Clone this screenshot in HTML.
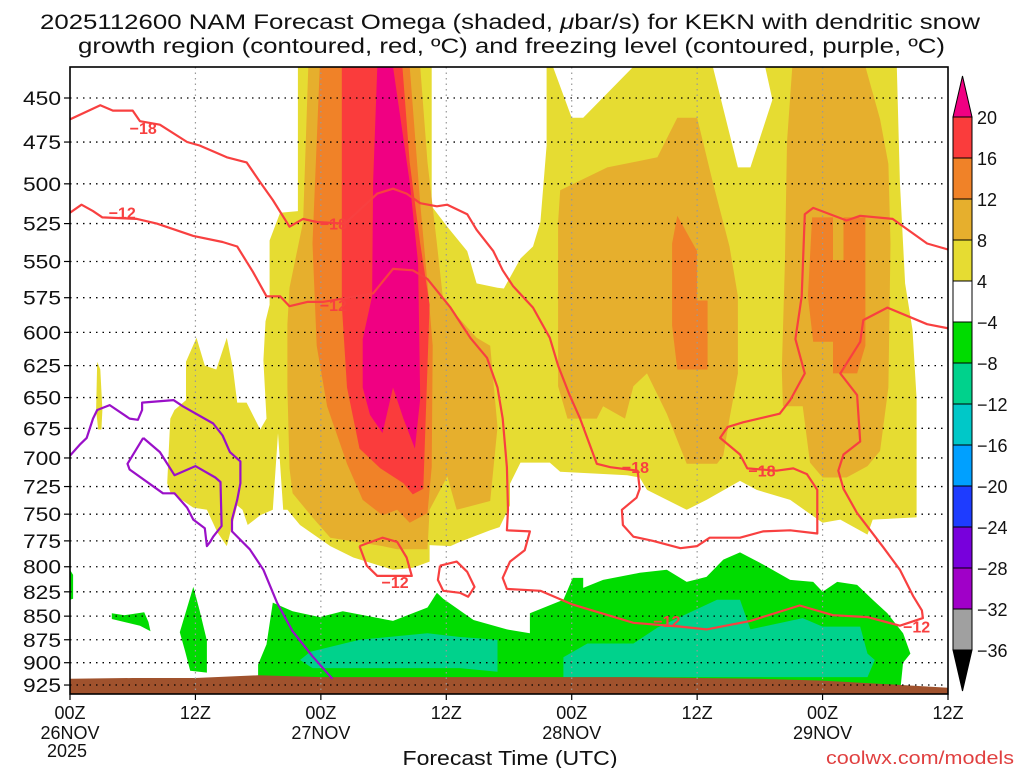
<!DOCTYPE html>
<html><head><meta charset="utf-8"><title>NAM Forecast Omega KEKN</title>
<style>
html,body{margin:0;padding:0;background:#fff;}
svg{display:block;font-family:"Liberation Sans",sans-serif;}
</style></head>
<body>
<svg id="chart" width="1024" height="768" viewBox="0 0 1024 768" xmlns="http://www.w3.org/2000/svg">
  <rect x="0" y="0" width="1024" height="768" fill="#fff"/>
  <text x="40" y="29" font-size="21" fill="#111" textLength="940" lengthAdjust="spacingAndGlyphs">2025112600 NAM Forecast Omega (shaded, <tspan font-style="italic">μ</tspan>bar/s) for KEKN with dendritic snow</text>
  <text x="78" y="53" font-size="21" fill="#111" textLength="867" lengthAdjust="spacingAndGlyphs">growth region (contoured, red, ºC) and freezing level (contoured, purple, ºC)</text>
  <defs><clipPath id="plotclip"><rect x="70" y="67" width="878" height="627"/></clipPath></defs>
  <g id="plot" clip-path="url(#plotclip)"></g>
  <g id="axes"></g>
  <g id="cbar"></g>
  <text x="510" y="765" font-size="20" fill="#111" text-anchor="middle" textLength="215" lengthAdjust="spacingAndGlyphs">Forecast Time (UTC)</text>
  <text x="826" y="764" font-size="18" fill="#e04040" textLength="188" lengthAdjust="spacingAndGlyphs">coolwx.com/models</text>
</svg>
<script>
const NS = "http://www.w3.org/2000/svg";
// ---- data (hours since 00Z 26NOV, pressure hPa) ----
const yLevels = [450,475,500,525,550,575,600,625,650,675,700,725,750,775,800,825,850,875,900,925];
const xTickHours = [0,12,24,36,48,60,72,84];
const xTickLabels = ["00Z","12Z","00Z","12Z","00Z","12Z","00Z","12Z"];
const xDateLabels = ["26NOV","","27NOV","","28NOV","","29NOV",""];
const cbarLevels = [20,16,12,8,4,-4,-8,-12,-16,-20,-24,-28,-32,-36];
const cbarColors = ["#fa3c3c","#f08228","#e6af2d","#e6dc32","#ffffff","#00dc00","#00d28c","#00c8c8","#00a0ff","#1e3cff","#7800dc","#a000c8","#a0a0a0"];

const yellowPlume = [[21.8,433],[34.6,433],[34.6,514],[36.1,527],[38.0,543],[38.9,565],[40.9,568],[42.1,569],[42.1,742],[41.1,762],[40.2,765],[37.3,776],[36.4,780],[34.4,779],[34.4,795],[32.8,801],[30.9,803],[27.1,791],[24.9,780],[22.0,760],[20.8,746],[20.4,746],[19.9,679],[19.4,746],[18.2,751],[17.0,760],[16.5,746],[16.0,742],[15.0,780],[14.1,767],[13.1,746],[11.8,744],[9.6,730],[9.3,722],[9.6,667],[10.0,660],[11.1,652],[11.1,622],[12.1,604],[12.9,625],[14.0,628],[15.0,604],[15.6,628],[16.0,654],[16.9,654],[18.2,676],[18.8,667],[18.5,621],[18.7,592],[19.1,580],[19.1,536],[20.1,518],[21.8,517]];
const yellowSliver = [[2.6,622],[2.9,628],[3.1,660],[3.0,676],[2.7,676],[2.5,660]];
const yellowRight = [[45.6,433],[46.2,433],[48.0,461],[49.1,461],[53.9,433],[61.5,433],[63.9,490],[65.1,490],[67.2,451],[66.5,433],[79.1,433],[79.4,499],[79.9,565],[80.6,598],[81.0,651],[81.0,753],[76.8,755],[76.3,769],[73.7,755],[72.0,758],[68.9,737],[65.7,728],[64.1,720],[60.9,737],[59.0,746],[55.2,728],[54.5,717],[53.3,715],[46.9,712],[45.9,704],[43.1,704],[41.8,728],[40.2,762],[38.3,764],[38.3,580],[41.1,574],[43.1,548],[44.3,540],[45.0,524],[45.6,477]];
const goldPlume = [[22.8,433],[33.5,433],[34.2,487],[35.1,538],[35.7,577],[38.9,604],[40.2,610],[40.9,674],[40.2,738],[37.0,746],[36.1,716],[34.4,746],[34.2,783],[31.3,783],[29.9,780],[24.9,772],[23.2,753],[21.3,731],[21.0,709],[20.8,642],[20.8,594],[21.0,568],[22.3,524]];
const goldRightA = [[46.9,504],[51.4,490],[56.2,484],[58.1,461],[60.0,461],[61.5,499],[63.1,540],[63.9,574],[63.9,631],[63.1,667],[62.5,698],[61.9,705],[59.0,705],[57.1,663],[55.2,631],[53.9,641],[53.1,667],[51.0,657],[50.4,667],[47.6,667],[46.7,641],[46.7,524]];
const goldRightB = [[69.1,433],[76.1,433],[77.5,462],[78.3,488],[78.5,538],[78.3,642],[77.5,694],[76.3,707],[74.3,717],[72.0,717],[70.8,704],[70.1,657],[68.2,657],[68.1,628],[68.4,551],[68.6,475]];
const orangePlume = [[23.9,433],[32.5,433],[33.5,512],[34.2,565],[34.7,610],[34.6,708],[34.2,749],[32.5,758],[31.3,746],[29.9,751],[28.0,737],[26.5,705],[24.6,657],[23.6,610],[23.2,538]];
const orangeRightA = [[58.1,520],[60.0,543],[60.0,577],[61.0,577],[61.0,628],[58.1,628],[57.6,595],[57.6,538]];
const orangeRightB = [[71.0,521],[73.0,521],[73.0,549],[74.0,549],[74.0,521],[76.1,521],[76.1,610],[75.3,631],[73.0,631],[73.0,607],[71.1,607],[70.6,574]];
const redPlume = [[26.0,433],[31.8,433],[32.5,487],[33.5,538],[34.4,580],[34.0,674],[33.8,727],[32.8,732],[31.9,722],[29.7,709],[27.7,692],[26.5,642],[26.0,580]];
const magentaPlume = [[29.4,433],[30.9,433],[32.5,499],[33.3,551],[33.5,651],[33.0,692],[31.9,667],[30.9,642],[29.9,679],[28.7,664],[28.0,642],[28.0,605],[28.9,574],[29.0,499]];
const greenMain = [[18.0,935],[18.0,902],[18.8,880],[19.4,836],[21.3,845],[23.9,851],[26.1,845],[30.9,855],[34.2,841],[35.1,826],[35.7,832],[38.6,854],[41.8,864],[44.0,868],[44.0,847],[47.2,833],[48.1,811],[49.1,811],[49.1,821],[51.0,813],[54.5,806],[57.1,803],[59.0,815],[60.9,810],[62.5,793],[64.1,786],[66.0,796],[68.9,813],[71.1,815],[72.0,825],[73.4,815],[75.3,818],[76.8,833],[78.2,847],[79.7,868],[80.4,890],[79.7,900],[79.4,935]];
const greenBlob1 = [[11.8,820],[12.4,844],[13.1,876],[13.1,911],[11.5,909],[11.0,887],[10.5,867]];
const greenBlob2 = [[4.0,847],[5.2,849],[7.1,846],[7.5,856],[7.7,866],[6.7,860],[4.0,853]];
const greenBlob3 = [[0,803],[0.3,808],[0.3,832],[0,833]];
const tealLeft = [[23.0,888],[27.7,875],[34.2,868],[37.3,872],[40.9,875],[40.9,910],[37.3,906],[23.2,906],[22.0,897]];
const tealRight = [[47.2,894],[49.5,879],[53.9,879],[56.2,862],[61.9,833],[64.1,833],[65.1,864],[70.1,852],[72.0,861],[75.6,861],[76.3,890],[77.0,897],[76.3,916],[47.2,916]];
const groundHours = [0,6,12,18,24,30,36,42,48,54,60,66,72,78,84];
const groundPressure = [918,917,917,914,916,916,916,916,916,916,917,918,920,924,928];

const isoMinus18 = [[0,462],[2.9,454],[4.1,457],[6.0,457],[6.7,463],[8.6,465],[11.2,475],[12.4,477],[15.0,484],[16.9,487],[18.2,499],[19.4,510],[21.0,527],[22.3,522],[23.6,524],[26.3,525],[29.4,506],[30.9,503],[32.2,506],[33.5,512],[35.1,514],[36.1,513],[38.0,519],[38.9,529],[40.5,543],[41.4,556],[42.4,567],[44.3,582],[45.9,604],[46.7,625],[47.8,648],[48.8,667],[50.4,705],[51.7,708],[54.3,711],[54.5,727],[54.2,735],[52.8,746],[52.9,760],[53.9,771],[55.8,775],[58.4,782],[60.0,780],[61.2,772],[64.1,772],[66.3,766],[68.9,765],[71.5,768],[71.5,728],[70.5,714],[69.2,709],[67.6,711],[64.8,709],[64.1,697],[62.2,683],[62.9,674],[64.4,670],[67.9,663],[68.9,652],[70.3,631],[69.4,605],[70.0,574],[70.3,519],[71.1,515],[74.3,523],[75.6,520],[78.7,522],[82.0,538],[84,542]];
const isoMinus12 = [[0,518],[1.1,513],[2.2,517],[3.1,521],[6.4,522],[8.3,525],[11.8,533],[14.6,537],[16.0,540],[17.5,557],[18.8,574],[20.1,574],[21.0,581],[22.7,578],[24.2,578],[29.0,572],[30.9,555],[32.8,556],[34.2,562],[36.4,582],[38.3,604],[39.9,619],[40.9,642],[41.4,667],[41.8,708],[41.9,746],[41.8,765],[44.0,766],[43.5,784],[42.1,795],[41.4,811],[41.8,822],[45.0,824],[48.1,838],[53.9,857],[58.4,861],[60.9,864],[65.1,855],[69.8,839],[73.0,849],[76.3,851],[79.4,860],[81.6,852],[81.5,844],[80.7,830],[79.4,803],[77.8,781],[75.3,749],[74.0,727],[73.5,711],[74.0,697],[75.6,686],[75.3,648],[73.7,631],[75.6,607],[75.9,591],[78.2,582],[82.0,594],[84,597]];
const isoMinus12LoopA = [[27.7,780],[29.9,772],[31.3,776],[32.2,791],[32.7,809],[29.4,809],[28.4,799],[27.7,780]];
const isoMinus12LoopB = [[35.4,799],[37.0,795],[38.0,805],[38.7,820],[38.1,830],[37.3,826],[35.7,824],[35.2,813],[35.4,799]];
const freezeLine = [[0,698],[1.0,688],[1.6,683],[2.2,667],[2.6,660],[3.8,656],[5.7,667],[6.5,668],[6.9,660],[6.9,654],[9.9,652],[10.8,657],[13.7,671],[14.6,681],[15.3,695],[16.3,703],[16.3,722],[16.0,737],[15.5,755],[15.5,766],[17.2,783],[18.5,803],[19.8,836],[21.3,866],[23.2,893],[25.1,918]];
const freezeLoop = [[7.0,683],[5.5,705],[5.7,710],[8.9,731],[10.0,731],[11.2,744],[11.8,755],[12.9,763],[13.1,780],[13.4,776],[13.7,771],[14.5,761],[14.4,721],[13.9,717],[12.0,707],[10.0,715],[8.6,695],[7.0,683]];
const contourLabelText = ["−18","−18","−18","−18","−12","−12","−12","−12","−12"];
const contourLabelPos = [[7.0,467],[25.2,525],[54.1,708],[66.2,711],[5.0,518],[25.2,580],[31.1,815],[57.1,855],[81.0,861]];

// ---- axis functions ----
const X0 = 70, X1 = 948;
function x(h){ return X0 + h * (X1 - X0) / 84; }
function y(p){ return 98 + 814.7 * Math.log(p / 450); }

const plot = document.getElementById('plot');
const axes = document.getElementById('axes');
const cbar = document.getElementById('cbar');
function pts(arr){ return arr.map(d => x(d[0]).toFixed(1) + ',' + y(d[1]).toFixed(1)).join(' '); }
function addPoly(parent, arr, fill, name){
  const el = document.createElementNS(NS, 'polygon');
  el.setAttribute('points', pts(arr));
  el.setAttribute('fill', fill);
  
  
  parent.appendChild(el);
}
function addLine(parent, arr, stroke, name){
  const el = document.createElementNS(NS, 'polyline');
  el.setAttribute('points', pts(arr));
  el.setAttribute('fill', 'none');
  el.setAttribute('stroke', stroke);
  el.setAttribute('stroke-width', '2.2');
  el.setAttribute('stroke-linejoin', 'round');
  
  
  parent.appendChild(el);
}

// shading
addPoly(plot, yellowPlume, '#e6dc32', 'omega-4-8-plume');
addPoly(plot, yellowSliver, '#e6dc32', 'omega-4-8-sliver');
addPoly(plot, yellowRight, '#e6dc32', 'omega-4-8-right');
addPoly(plot, goldPlume, '#e6af2d', 'omega-8-12-plume');
addPoly(plot, goldRightA, '#e6af2d', 'omega-8-12-right-a');
addPoly(plot, goldRightB, '#e6af2d', 'omega-8-12-right-b');
addPoly(plot, orangePlume, '#f08228', 'omega-12-16-plume');
addPoly(plot, orangeRightA, '#f08228', 'omega-12-16-right-a');
addPoly(plot, orangeRightB, '#f08228', 'omega-12-16-right-b');
addPoly(plot, redPlume, '#fa3c3c', 'omega-16-20-plume');
addPoly(plot, magentaPlume, '#f00082', 'omega-over-20-core');
addPoly(plot, greenMain, '#00dc00', 'omega-neg4-neg8-main');
addPoly(plot, greenBlob1, '#00dc00', 'omega-neg4-neg8-blob-1');
addPoly(plot, greenBlob2, '#00dc00', 'omega-neg4-neg8-blob-2');
addPoly(plot, greenBlob3, '#00dc00', 'omega-neg4-neg8-blob-3');
addPoly(plot, tealLeft, '#00d28c', 'omega-neg8-neg12-left');
addPoly(plot, tealRight, '#00d28c', 'omega-neg8-neg12-right');

// ground
const groundPts = groundHours.map((h, i) => [h, groundPressure[i]]);
groundPts.push([84, 960]);
groundPts.push([0, 960]);
addPoly(plot, groundPts, '#a0522d', 'ground-surface');

// grid
yLevels.forEach(p => {
  const l = document.createElementNS(NS, 'line');
  l.setAttribute('x1', X0); l.setAttribute('x2', X1);
  l.setAttribute('y1', y(p)); l.setAttribute('y2', y(p));
  l.setAttribute('stroke', '#000'); l.setAttribute('stroke-width', '1.3');
  l.setAttribute('stroke-dasharray', '1.5 5');
  
  
  plot.appendChild(l);
});
xTickHours.forEach(h => {
  if (h === 0 || h === 84) return;
  const l = document.createElementNS(NS, 'line');
  l.setAttribute('x1', x(h)); l.setAttribute('x2', x(h));
  l.setAttribute('y1', 67); l.setAttribute('y2', 694);
  l.setAttribute('stroke', '#999'); l.setAttribute('stroke-width', '1.2');
  l.setAttribute('stroke-dasharray', '1.5 4');
  
  
  plot.appendChild(l);
});

// contours
addLine(plot, isoMinus18, '#f84040', 'isotherm-minus-18');
addLine(plot, isoMinus12, '#f84040', 'isotherm-minus-12');
addLine(plot, isoMinus12LoopA, '#f84040', 'isotherm-minus-12-loop-a');
addLine(plot, isoMinus12LoopB, '#f84040', 'isotherm-minus-12-loop-b');
addLine(plot, freezeLine, '#9a10c8', 'freezing-level-line');
addLine(plot, freezeLoop, '#9a10c8', 'freezing-level-loop');
contourLabelText.forEach((t, i) => {
  const el = document.createElementNS(NS, 'text');
  el.setAttribute('x', x(contourLabelPos[i][0]));
  el.setAttribute('y', y(contourLabelPos[i][1]) + 6);
  el.setAttribute('text-anchor', 'middle');
  el.setAttribute('font-size', '16');
  el.setAttribute('font-weight', 'bold');
  el.setAttribute('fill', '#f84040');
  el.textContent = t;
  
  
  plot.appendChild(el);
});

// frame
const frame = document.createElementNS(NS, 'rect');
frame.setAttribute('x', 70); frame.setAttribute('y', 67);
frame.setAttribute('width', 878); frame.setAttribute('height', 627);
frame.setAttribute('fill', 'none'); frame.setAttribute('stroke', '#000'); frame.setAttribute('stroke-width', '1.6');


axes.appendChild(frame);

// y ticks
yLevels.forEach(p => {
  const t = document.createElementNS(NS, 'line');
  t.setAttribute('x1', 64); t.setAttribute('x2', 70);
  t.setAttribute('y1', y(p)); t.setAttribute('y2', y(p));
  t.setAttribute('stroke', '#000'); t.setAttribute('stroke-width', '1.2');
  
  
  axes.appendChild(t);
  const lab = document.createElementNS(NS, 'text');
  lab.setAttribute('x', 61); lab.setAttribute('y', y(p) + 7);
  lab.setAttribute('text-anchor', 'end');
  lab.setAttribute('font-size', '19');
  lab.setAttribute('fill', '#111');
  lab.setAttribute('textLength', '38');
  lab.setAttribute('lengthAdjust', 'spacingAndGlyphs');
  lab.textContent = p;
  
  
  axes.appendChild(lab);
});

// x ticks
xTickHours.forEach((h, i) => {
  const t = document.createElementNS(NS, 'line');
  t.setAttribute('x1', x(h)); t.setAttribute('x2', x(h));
  t.setAttribute('y1', 694); t.setAttribute('y2', 700);
  t.setAttribute('stroke', '#000'); t.setAttribute('stroke-width', '1.2');
  
  
  axes.appendChild(t);
  const lab = document.createElementNS(NS, 'text');
  lab.setAttribute('x', x(h)); lab.setAttribute('y', 719);
  lab.setAttribute('text-anchor', 'middle');
  lab.setAttribute('font-size', '18');
  lab.setAttribute('fill', '#111');
  lab.textContent = xTickLabels[i];
  
  
  axes.appendChild(lab);
  if (xDateLabels[i]) {
    const d = document.createElementNS(NS, 'text');
    d.setAttribute('x', x(h)); d.setAttribute('y', 739);
    d.setAttribute('text-anchor', 'middle');
    d.setAttribute('font-size', '18');
    d.setAttribute('fill', '#111');
    d.textContent = xDateLabels[i];
    
    
    axes.appendChild(d);
  }
});
const yr = document.createElementNS(NS, 'text');
yr.setAttribute('x', 67); yr.setAttribute('y', 757);
yr.setAttribute('text-anchor', 'middle');
yr.setAttribute('font-size', '18');
yr.setAttribute('fill', '#111');
yr.textContent = '2025';


axes.appendChild(yr);

// colorbar
const CB_X = 953, CB_W = 19, CB_TOP = 117, CB_STEP = 41;
const topTri = document.createElementNS(NS, 'polygon');
topTri.setAttribute('points', `${CB_X},${CB_TOP} ${CB_X+CB_W},${CB_TOP} ${CB_X+CB_W/2},76`);
topTri.setAttribute('fill', '#f00082'); topTri.setAttribute('stroke', '#000'); topTri.setAttribute('stroke-width', '1');


cbar.appendChild(topTri);
cbarColors.forEach((c, i) => {
  const r = document.createElementNS(NS, 'rect');
  r.setAttribute('x', CB_X); r.setAttribute('y', CB_TOP + i * CB_STEP);
  r.setAttribute('width', CB_W); r.setAttribute('height', CB_STEP);
  r.setAttribute('fill', c); r.setAttribute('stroke', '#000'); r.setAttribute('stroke-width', '1');
  
  
  cbar.appendChild(r);
});
const cbBottom = CB_TOP + cbarColors.length * CB_STEP;
const botTri = document.createElementNS(NS, 'polygon');
botTri.setAttribute('points', `${CB_X},${cbBottom} ${CB_X+CB_W},${cbBottom} ${CB_X+CB_W/2},${cbBottom+41}`);
botTri.setAttribute('fill', '#000'); botTri.setAttribute('stroke', '#000'); botTri.setAttribute('stroke-width', '1');


cbar.appendChild(botTri);
cbarLevels.forEach((v, i) => {
  const t = document.createElementNS(NS, 'text');
  t.setAttribute('x', 977); t.setAttribute('y', CB_TOP + i * CB_STEP + 7);
  t.setAttribute('font-size', '18');
  t.setAttribute('fill', '#111');
  t.textContent = v < 0 ? '−' + Math.abs(v) : String(v);
  
  
  cbar.appendChild(t);
});
</script>
</body></html>
